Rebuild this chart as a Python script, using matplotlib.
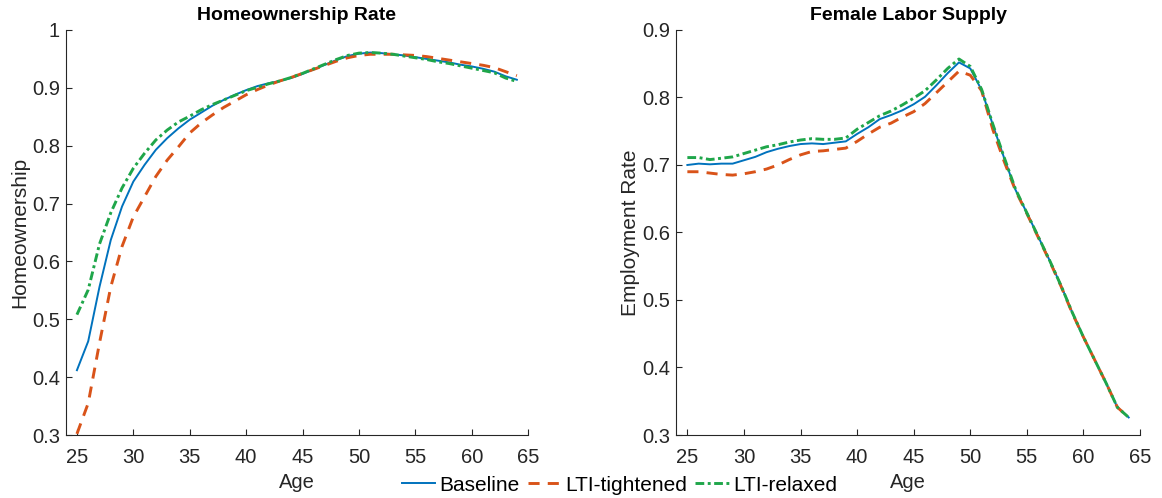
import matplotlib
matplotlib.use("Agg")
import matplotlib.pyplot as plt
from matplotlib.lines import Line2D

plt.rcParams['font.family'] = ['Liberation Sans', 'DejaVu Sans']

ages = list(range(25, 65))

home_baseline = [0.412, 0.462, 0.556, 0.637, 0.695, 0.738, 0.767, 0.793, 0.813, 0.830,
                 0.845, 0.857, 0.869, 0.879, 0.888, 0.896, 0.903, 0.908, 0.912, 0.917,
                 0.924, 0.932, 0.940, 0.948, 0.955, 0.959, 0.961, 0.960, 0.958, 0.956,
                 0.953, 0.950, 0.947, 0.944, 0.940, 0.937, 0.933, 0.928, 0.920, 0.914]
home_tight = [0.302, 0.355, 0.459, 0.556, 0.626, 0.677, 0.712, 0.747, 0.775, 0.798,
              0.822, 0.839, 0.853, 0.866, 0.877, 0.888, 0.897, 0.905, 0.912, 0.918,
              0.925, 0.932, 0.939, 0.946, 0.952, 0.956, 0.958, 0.958, 0.958, 0.957,
              0.956, 0.954, 0.951, 0.948, 0.945, 0.942, 0.939, 0.935, 0.928, 0.921]
home_relax = [0.508, 0.551, 0.630, 0.684, 0.727, 0.761, 0.787, 0.810, 0.827, 0.841,
              0.851, 0.862, 0.871, 0.879, 0.887, 0.895, 0.901, 0.907, 0.912, 0.918,
              0.925, 0.933, 0.941, 0.949, 0.956, 0.960, 0.961, 0.960, 0.958, 0.955,
              0.952, 0.949, 0.945, 0.942, 0.938, 0.934, 0.930, 0.926, 0.917, 0.911]

emp_baseline = [0.700, 0.702, 0.701, 0.702, 0.702, 0.707, 0.712, 0.719, 0.724, 0.728,
                0.731, 0.732, 0.731, 0.733, 0.735, 0.746, 0.756, 0.768, 0.774, 0.781,
                0.790, 0.801, 0.818, 0.836, 0.852, 0.843, 0.811, 0.759, 0.710, 0.663,
                0.629, 0.594, 0.559, 0.522, 0.482, 0.445, 0.411, 0.377, 0.341, 0.326]
emp_tight = [0.690, 0.690, 0.688, 0.686, 0.685, 0.687, 0.690, 0.694, 0.700, 0.708,
             0.715, 0.720, 0.721, 0.723, 0.725, 0.735, 0.746, 0.756, 0.762, 0.771,
             0.779, 0.791, 0.807, 0.823, 0.839, 0.833, 0.810, 0.752, 0.705, 0.662,
             0.628, 0.593, 0.558, 0.521, 0.481, 0.445, 0.411, 0.377, 0.341, 0.326]
emp_relax = [0.711, 0.711, 0.708, 0.710, 0.712, 0.717, 0.722, 0.727, 0.730, 0.734,
             0.737, 0.739, 0.738, 0.738, 0.740, 0.753, 0.763, 0.773, 0.780, 0.789,
             0.799, 0.810, 0.826, 0.843, 0.857, 0.846, 0.812, 0.760, 0.711, 0.664,
             0.629, 0.594, 0.559, 0.522, 0.482, 0.445, 0.411, 0.377, 0.341, 0.326]

series_names = ['Baseline', 'LTI-tightened', 'LTI-relaxed']
colors = ['#0072BD', '#D95319', '#1FA64A']
styles = ['-', (0, (3.8, 2.8)), (0, (3.0, 1.2, 1.0, 1.2))]
widths = [1.4, 2.1, 2.1]

fig = plt.figure(figsize=(11.62, 4.98), dpi=100)
ax1 = fig.add_axes([0.0565, 0.1265, 0.398, 0.8133])
ax2 = fig.add_axes([0.5818, 0.1265, 0.3993, 0.8133])

panels = [
    (ax1, [home_baseline, home_tight, home_relax], 'Homeownership Rate', 'Homeownership',
     (0.3, 1.0), [0.3, 0.4, 0.5, 0.6, 0.7, 0.8, 0.9, 1.0],
     ['0.3', '0.4', '0.5', '0.6', '0.7', '0.8', '0.9', '1']),
    (ax2, [emp_baseline, emp_tight, emp_relax], 'Female Labor Supply', 'Employment Rate',
     (0.3, 0.9), [0.3, 0.4, 0.5, 0.6, 0.7, 0.8, 0.9],
     ['0.3', '0.4', '0.5', '0.6', '0.7', '0.8', '0.9']),
]

for ax, data, title, ylabel, ylim, yt, ytl in panels:
    for vals, c, ls, lw in zip(data, colors, styles, widths):
        ax.plot(ages, vals, color=c, linestyle=ls, linewidth=lw)
    ax.set_xlim(24, 65)
    ax.set_ylim(*ylim)
    ax.set_xticks([25, 30, 35, 40, 45, 50, 55, 60, 65])
    ax.set_yticks(yt)
    ax.set_yticklabels(ytl)
    ax.set_title(title, fontsize=14, fontweight='bold', pad=7)
    ax.set_ylabel(ylabel, fontsize=15, color='#262626', labelpad=2)
    ax.set_xlabel('Age', fontsize=14.5, color='#262626', labelpad=5)
    for side in ('top', 'right'):
        ax.spines[side].set_visible(False)
    for side in ('left', 'bottom'):
        ax.spines[side].set_color('#262626')
        ax.spines[side].set_linewidth(0.8)
    ax.tick_params(direction='in', length=4, width=0.8, colors='#262626',
                   labelsize=14.5)
    ax.tick_params(axis='x', pad=9)
    ax.tick_params(axis='y', pad=4)

handles = [Line2D([], [], color=c, linestyle=ls, linewidth=lw)
           for c, ls, lw in zip(colors, styles, widths)]
fig.legend(handles, series_names, loc='center', bbox_to_anchor=(0.533, 0.026),
           ncol=3, frameon=False, fontsize=15, handlelength=1.6,
           handletextpad=0.2, columnspacing=0.4, borderpad=0.1)

fig.savefig('out.png', dpi=100)
